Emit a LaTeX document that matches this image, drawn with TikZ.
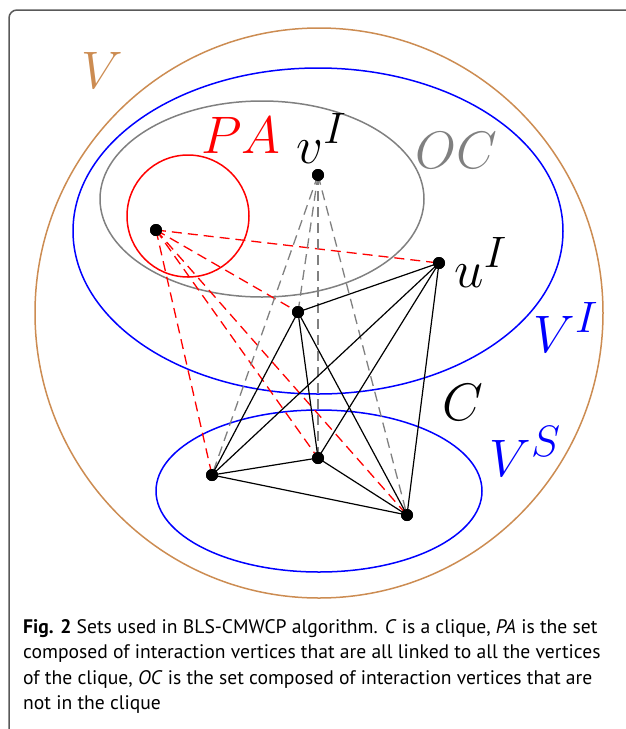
\documentclass[tikz,border=0pt]{standalone}
\usepackage{fontspec}
\newfontfamily\capfont{PT Sans}
\definecolor{setbrown}{RGB}{204,140,82}
\tikzset{
  vert/.style={circle, fill=black, inner sep=0pt, minimum size=12pt},
  clq/.style={black, line width=1.2pt},
  redlink/.style={red, line width=1.3pt, dash pattern=on 10pt off 6pt},
  graylink/.style={gray, line width=1.3pt, dash pattern=on 10pt off 6pt},
  setlbl/.style={inner sep=0pt, anchor=base west, font=\Huge, scale=2.12}
}
\begin{document}
\begin{tikzpicture}[x=1pt, y=-1pt]
            \useasboundingbox (0,0) rectangle (626,729);
            % frame
            \draw[black!65, line width=1.5pt, rounded corners=8pt] (9,729) -- (9,10) -- (626,10);

            % sets
            \draw[setbrown, line width=1.5pt] (319,313) ellipse [x radius=284, y radius=285];
            \draw[blue, line width=1.5pt] (318,231) ellipse [x radius=245, y radius=163];
            \draw[gray, line width=1.5pt] (262,199) ellipse [x radius=162, y radius=98];
            \draw[red, line width=1.5pt] (188,216) circle (61);
            \draw[blue, line width=1.5pt] (319,491) ellipse [x radius=163, y radius=81];

            % vertices
            \node[vert] (pa) at (156,230) {};
            \node[vert] (vi) at (318,175) {};
            \node[vert] (ui) at (439,263) {};
            \node[vert] (c1) at (298,312) {};
            \node[vert] (c2) at (318,458) {};
            \node[vert] (c3) at (212,475) {};
            \node[vert] (c4) at (407,515) {};

            % links from PA and from v^I
            \foreach \t in {ui,c1,c2,c3,c4}
                \draw[redlink] (pa.center) -- (\t.center);
            \foreach \t in {c1,c2,c3,c4}
                \draw[graylink] (vi.center) -- (\t.center);

            % clique C
            \foreach \s/\t in {ui/c1,ui/c2,ui/c3,ui/c4,c1/c2,c1/c3,c1/c4,c2/c3,c2/c4,c3/c4}
                \draw[clq] (\s.center) -- (\t.center);
            \foreach \v in {pa,vi,ui,c1,c2,c3,c4}
                \fill (\v) circle (6);

            % labels
            \node[setlbl, text=setbrown] (lv) at (81,88) {$V$};
            \node[setlbl, text=red] (lpa) at (201,153) {$PA$};
            \node[setlbl] (lvi) at (296,163) {$v^I$};
            \node[setlbl, text=gray] (loc) at (415,168) {$OC$};
            \node[setlbl] (lui) at (454,287) {$u^I$};
            \node[setlbl, text=blue] (lvI) at (533,352) {$V^I$};
            \node[setlbl, text=blue] (lvs) at (489,476) {$V^S$};
            \node[setlbl] (lc) at (442,420) {$C$};

            % caption (base = last line)
            \node[anchor=base west, inner sep=0pt, align=left,
                  font=\capfont\fontsize{19.6}{25.5}\selectfont] (cap) at (23,709.5)
                {\textbf{Fig. 2} Sets used in BLS-CMWCP algorithm. \textit{C} is a clique, \textit{PA} is the set\\
                 composed of interaction vertices that are all linked to all the vertices\\
                 of the clique, \textit{OC} is the set composed of interaction vertices that are\\
                 not in the clique};
        \end{tikzpicture}
\end{document}
